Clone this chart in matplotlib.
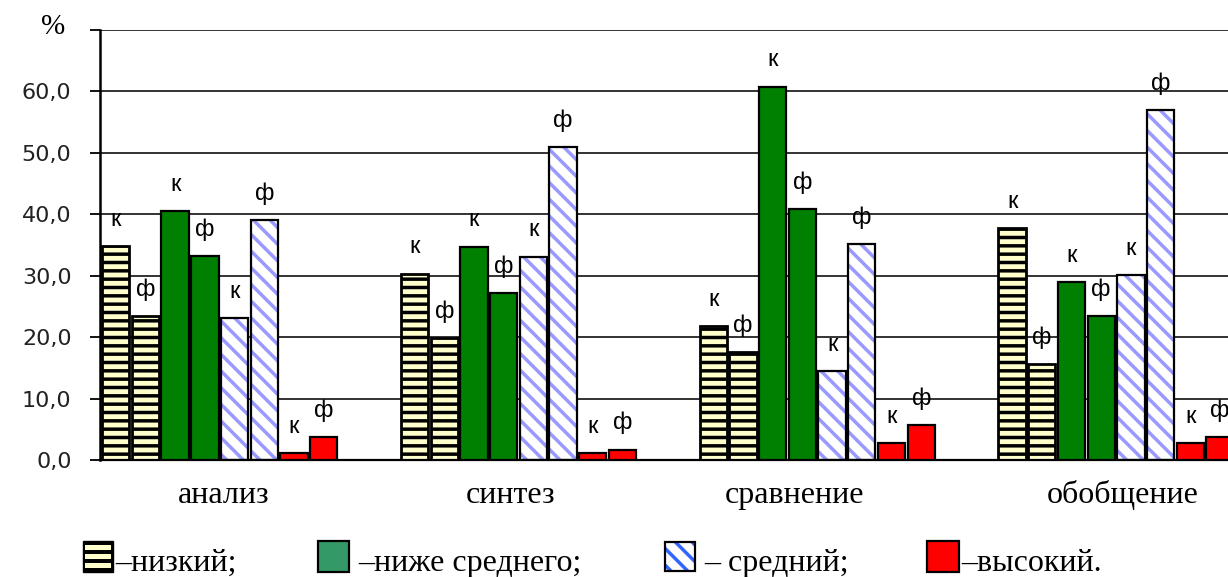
import matplotlib
matplotlib.use("Agg")
import matplotlib.pyplot as plt
from matplotlib.patches import Rectangle
from matplotlib.transforms import blended_transform_factory
import numpy as np

# ---- data -------------------------------------------------------------
categories = ["анализ", "синтез", "сравнение", "обобщение"]
level_labels = ["–низкий;", "–ниже среднего;", "– средний;", "–высокий."]
pair_tags = ["к", "ф"]

low_k = [34.8, 30.3, 21.8, 37.7]
low_f = [23.4, 19.8, 17.6, 15.6]
below_k = [40.5, 34.7, 60.8, 28.9]
below_f = [33.2, 27.2, 40.9, 23.4]
mid_k = [23.1, 33.1, 14.5, 30.1]
mid_f = [39.0, 51.0, 35.1, 56.9]
high_k = [1.1, 1.1, 2.7, 2.7]
high_f = [3.8, 1.7, 5.7, 3.8]

y_ticks = [0, 10, 20, 30, 40, 50, 60, 70]
y_tick_labels = ["0,0", "10,0", "20,0", "30,0", "40,0", "50,0", "60,0", ""]

# ---- figure -----------------------------------------------------------
W, H = 1228, 577
plt.rcParams["hatch.linewidth"] = 2.5
fig = plt.figure(figsize=(W / 100, H / 100), dpi=100)
fig.patch.set_facecolor("white")


def fx(px):
    return px / W


def fy(py):
    return 1 - py / H


ax = fig.add_axes([fx(100), fy(460), 1 - fx(100), (460 - 30) / H])

group_step = 10.06
bar_w = 0.92

styles = [
    dict(face="#ffffcc", hatch="--", hcolor="black", lw=2.0),
    dict(face="#008000", hatch=None, hcolor=None, lw=1.6),
    dict(face="white", hatch="\\\\", hcolor="#9999ff", lw=1.6),
    dict(face="#ff0000", hatch=None, hcolor=None, lw=1.6),
]
pairs = [(low_k, low_f), (below_k, below_f), (mid_k, mid_f), (high_k, high_f)]
groups = np.arange(len(categories)) * group_step

for s_i, (k_vals, f_vals) in enumerate(pairs):
    st = styles[s_i]
    for t_i, vals in enumerate((k_vals, f_vals)):
        j = 2 * s_i + t_i
        x = groups + j + 0.5
        if st["hatch"]:
            ax.bar(x, vals, bar_w, color=st["face"], edgecolor=st["hcolor"],
                   linewidth=0, hatch=st["hatch"], zorder=2)
            ax.bar(x, vals, bar_w, fill=False, edgecolor="black",
                   linewidth=st["lw"], zorder=3)
        else:
            ax.bar(x, vals, bar_w, color=st["face"], edgecolor="black",
                   linewidth=st["lw"], zorder=3)
        for xi, v in zip(x, vals):
            ax.annotate(pair_tags[t_i], (xi, v), xytext=(0, 19),
                        textcoords="offset points", ha="center", va="center",
                        fontsize=17, family="Liberation Sans", zorder=4)

ax.set_xlim(-0.03, -0.03 + 1128 / 29.7)
ax.set_ylim(0, 70)
ax.set_yticks(y_ticks)
ax.set_yticklabels(y_tick_labels, family="DejaVu Sans", fontsize=16,
                   color="#222222")
ax.set_xticks([])
ax.tick_params(axis="y", length=7.5, width=1.3, pad=13, color="black")
ax.yaxis.grid(True, color="#333333", linewidth=1.4)
ax.set_axisbelow(True)
for side in ("top", "right"):
    ax.spines[side].set_visible(False)
ax.spines["left"].set_linewidth(1.8)
ax.spines["bottom"].set_linewidth(1.6)

# category names under each group
label_nudge = [0.15, -0.27, -0.77, 0.24]
name_tf = blended_transform_factory(ax.transData, fig.transFigure)
for g, name, dx in zip(groups, categories, label_nudge):
    ax.text(g + 4 + dx, fy(503), name, transform=name_tf,
            ha="center", va="baseline", fontsize=23, family="Liberation Serif")

fig.text(fx(53), fy(27), "%", ha="center", va="center", fontsize=21,
         family="Liberation Serif")

# ---- legend ------------------------------------------------------------
def rect(x0, y0, x1, y1, **kw):
    fig.add_artist(Rectangle((fx(x0), fy(y1)), fx(x1 - x0), (y1 - y0) / H,
                             transform=fig.transFigure, **kw))


# low: black square with cream stripes
rect(83, 541, 113, 572, facecolor="black", edgecolor="black", linewidth=1)
for y0 in (544.5, 553.5, 562.5):
    rect(85, y0, 111, y0 + 5, facecolor="#ffffcc", edgecolor="none")
# below average
rect(318, 541, 349, 572, facecolor="#339966", edgecolor="black", linewidth=1.6)
# average
rect(665, 542, 695, 571, facecolor="white", edgecolor="#3366ff", linewidth=0,
     hatch="\\\\")
rect(665, 542, 695, 571, fill=False, edgecolor="black", linewidth=1.6)
# high
rect(927, 541, 959, 572, facecolor="#ff0000", edgecolor="black", linewidth=1.6)

legend_x = [115, 358, 704, 961]
for lx, lab in zip(legend_x, level_labels):
    fig.text(fx(lx), fy(571), lab, ha="left", va="baseline", fontsize=23,
             family="Liberation Serif")

fig.savefig("out.png", dpi=100, facecolor="white")
